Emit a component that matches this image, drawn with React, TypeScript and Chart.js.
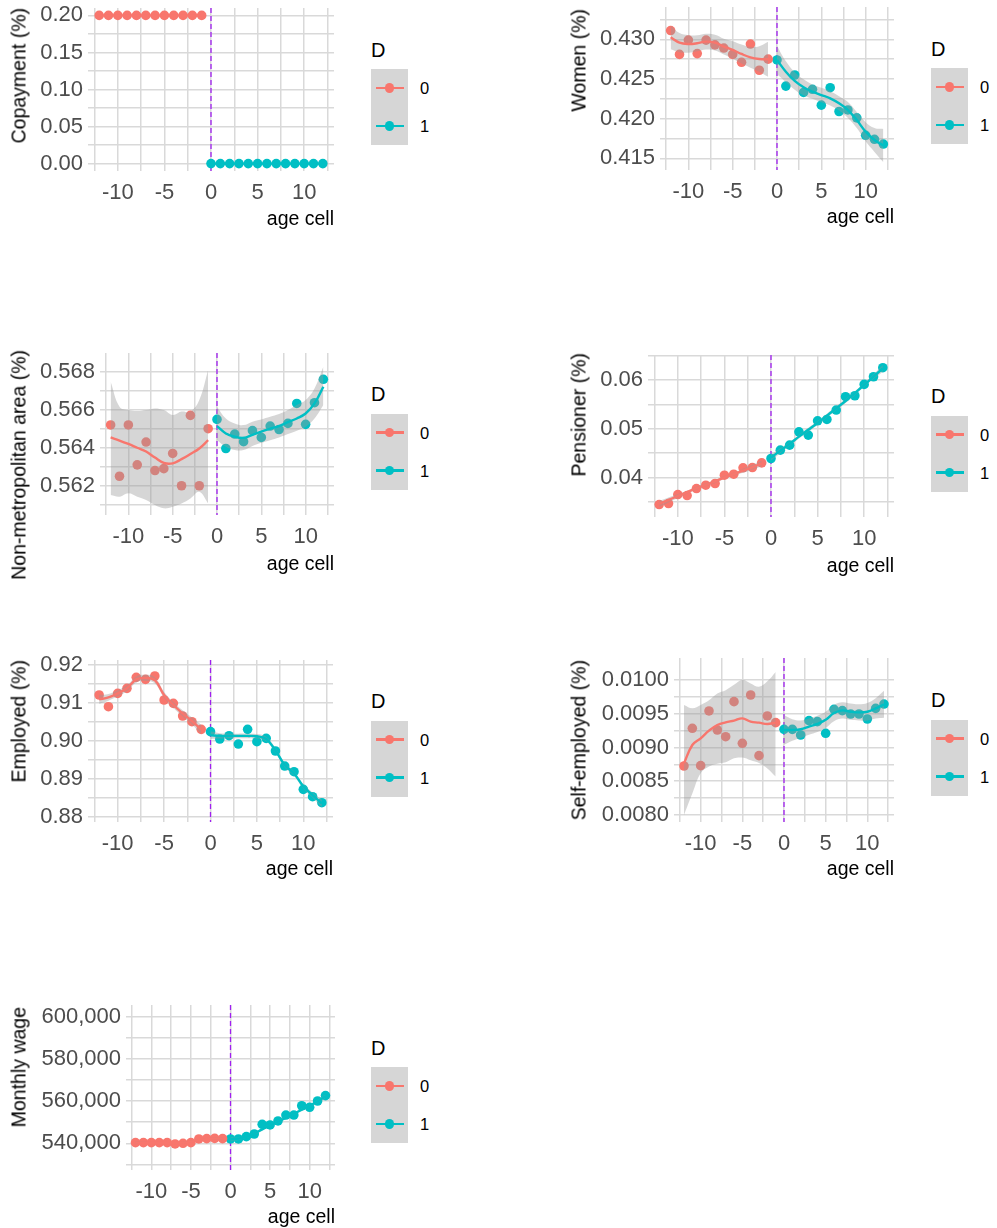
import React, { useEffect, useRef } from "react";
import { Chart, registerables } from "chart.js";
Chart.register(...registerables);
Chart.defaults.font.family = "'Liberation Sans', Arial, sans-serif";

// ---------- shared ----------
const RED = "#F8766D";
const TEAL = "#00BFC4";
const RIBBON = "rgba(153,153,153,0.4)";
const GRID = "#D9D9D9";
const TICK_COLOR = "#4D4D4D";
const CUTOFF = 0;

const ageBelow = [-12, -11, -10, -9, -8, -7, -6, -5, -4, -3, -2, -1];
const ageAbove = [0, 1, 2, 3, 4, 5, 6, 7, 8, 9, 10, 11, 12];
const xLimits = [-13.2, 13.2];
const xGridValues = [-12.5, -10, -7.5, -5, -2.5, 0, 2.5, 5, 7.5, 10, 12.5];
const xTickLabels = ["", "-10", "", "-5", "", "0", "", "5", "", "10", ""];
const legendLabels = ["0", "1"];

// ---------- Copayment ----------
const copayPts0 = [0.2, 0.2, 0.2, 0.2, 0.2, 0.2, 0.2, 0.2, 0.2, 0.2, 0.2, 0.2];
const copayPts1 = [0, 0, 0, 0, 0, 0, 0, 0, 0, 0, 0, 0, 0];
const copayFit0 = [0.2, 0.2, 0.2, 0.2, 0.2, 0.2, 0.2, 0.2, 0.2, 0.2, 0.2, 0.2];
const copayFit1 = [0, 0, 0, 0, 0, 0, 0, 0, 0, 0, 0, 0, 0];
const copayBand0 = [0, 0, 0, 0, 0, 0, 0, 0, 0, 0, 0, 0];
const copayBand1 = [0, 0, 0, 0, 0, 0, 0, 0, 0, 0, 0, 0, 0];
const copayYTicks = [0, 0.025, 0.05, 0.075, 0.1, 0.125, 0.15, 0.175, 0.2];
const copayYLabels = ["0.00", "", "0.05", "", "0.10", "", "0.15", "", "0.20"];
const copayYLimits = [-0.01, 0.21];

// ---------- Women ----------
const womenPts0 = [0.4311, 0.4281, 0.4299, 0.4282, 0.4299, 0.4293, 0.4289, 0.4281, 0.4271, 0.4294, 0.4261, 0.4275];
const womenPts1 = [0.4274, 0.4241, 0.4255, 0.4233, 0.4237, 0.4217, 0.4239, 0.4209, 0.4211, 0.4201, 0.4179, 0.4174, 0.4168];
const womenFit0 = [0.43025, 0.42958, 0.42941, 0.4295, 0.42971, 0.42958, 0.42908, 0.42866, 0.42815, 0.42773, 0.42752, 0.42748];
const womenFit1 = [0.42739, 0.42592, 0.42475, 0.42395, 0.4234, 0.42298, 0.42256, 0.42193, 0.42109, 0.41983, 0.41836, 0.41731, 0.4166];
const womenBand0 = [0.0015, 0.0012, 0.0011, 0.001, 0.001, 0.001, 0.001, 0.0011, 0.0012, 0.0013, 0.0016, 0.0022];
const womenBand1 = [0.0018, 0.0013, 0.0011, 0.001, 0.0009, 0.0009, 0.0009, 0.0009, 0.001, 0.001, 0.0012, 0.0015, 0.0021];
const womenYTicks = [0.415, 0.4175, 0.42, 0.4225, 0.425, 0.4275, 0.43, 0.4325];
const womenYLabels = ["0.415", "", "0.420", "", "0.425", "", "0.430", ""];
const womenYLimits = [0.41353, 0.43407];

// ---------- Non-metropolitan area ----------
const metroPts0 = [0.5652, 0.5625, 0.5652, 0.5631, 0.5643, 0.5628, 0.5629, 0.5637, 0.562, 0.5657, 0.562, 0.565];
const metroPts1 = [0.56549, 0.56396, 0.56472, 0.56432, 0.5649, 0.56454, 0.56514, 0.56496, 0.56528, 0.56633, 0.56523, 0.56637, 0.5676];
const metroFit0 = [0.56454, 0.56438, 0.5642, 0.564, 0.5638, 0.56348, 0.5632, 0.56318, 0.5634, 0.56367, 0.56396, 0.5644];
const metroFit1 = [0.56514, 0.56475, 0.56458, 0.56452, 0.56468, 0.56485, 0.565, 0.56514, 0.56535, 0.56554, 0.5658, 0.56633, 0.56721];
const metroUpper0 = [0.56747, 0.56616, 0.56598, 0.56593, 0.56598, 0.56607, 0.56598, 0.56572, 0.5659, 0.5659, 0.56651, 0.56809];
const metroLower0 = [0.56151, 0.56142, 0.5616, 0.56142, 0.56125, 0.56098, 0.56081, 0.5609, 0.56107, 0.56133, 0.56168, 0.56107];
const metroUpper1 = [0.56616, 0.56554, 0.56528, 0.56519, 0.56537, 0.56549, 0.56563, 0.56577, 0.56598, 0.56625, 0.56651, 0.56712, 0.56826];
const metroLower1 = [0.5644, 0.56405, 0.56388, 0.56388, 0.56409, 0.56426, 0.5644, 0.56454, 0.56472, 0.5649, 0.56511, 0.56554, 0.56625];
const metroYTicks = [0.561, 0.562, 0.563, 0.564, 0.565, 0.566, 0.567, 0.568];
const metroYLabels = ["", "0.562", "", "0.564", "", "0.566", "", "0.568"];
const metroYLimits = [0.56046, 0.568985];

// ---------- Pensioner ----------
const pensionPts0 = [0.03445, 0.03466, 0.03651, 0.0363, 0.03774, 0.03842, 0.03877, 0.04048, 0.04068, 0.04199, 0.04205, 0.04301];
const pensionPts1 = [0.0439, 0.04562, 0.04664, 0.04938, 0.0487, 0.05164, 0.05192, 0.05384, 0.05658, 0.05678, 0.05911, 0.06068, 0.06253];
const pensionFit0 = [0.0346, 0.0354, 0.0362, 0.037, 0.0378, 0.0385, 0.0392, 0.04, 0.0407, 0.0414, 0.0421, 0.0429];
const pensionFit1 = [0.0441, 0.0455, 0.0469, 0.0484, 0.0498, 0.0512, 0.0527, 0.0542, 0.0557, 0.0573, 0.059, 0.0607, 0.0624];
const pensionBand0 = [0.0006, 0.0005, 0.0004, 0.0003, 0.0003, 0.0003, 0.0003, 0.0003, 0.0003, 0.0004, 0.0005, 0.0006];
const pensionBand1 = [0.0006, 0.0005, 0.0004, 0.0004, 0.0004, 0.0004, 0.0004, 0.0004, 0.0004, 0.0004, 0.0004, 0.0005, 0.0007];
const pensionYTicks = [0.035, 0.04, 0.045, 0.05, 0.055, 0.06, 0.065];
const pensionYLabels = ["", "0.04", "", "0.05", "", "0.06", ""];
const pensionYLimits = [0.0319, 0.06514];

// ---------- Employed ----------
const employedPts0 = [0.91209, 0.909, 0.91253, 0.91385, 0.91675, 0.91622, 0.9171, 0.91077, 0.90989, 0.90655, 0.90505, 0.90303];
const employedPts1 = [0.90242, 0.90048, 0.90136, 0.89916, 0.90303, 0.89978, 0.90066, 0.89732, 0.89336, 0.89187, 0.88721, 0.88527, 0.88369];
const employedFit0 = [0.91094, 0.91147, 0.91253, 0.91385, 0.9162, 0.9166, 0.916, 0.91209, 0.90945, 0.90725, 0.90523, 0.90303];
const employedFit1 = [0.9015, 0.9013, 0.9013, 0.9013, 0.9013, 0.9012, 0.9005, 0.8975, 0.8936, 0.8914, 0.888, 0.8857, 0.8835];
const employedBand0 = [0.0012, 0.0009, 0.0008, 0.0008, 0.0008, 0.0008, 0.0008, 0.0008, 0.0008, 0.0008, 0.0009, 0.0012];
const employedBand1 = [0.001, 0.0007, 0.0006, 0.0006, 0.0006, 0.0006, 0.0006, 0.0006, 0.0006, 0.0006, 0.0006, 0.0007, 0.001];
const employedYTicks = [0.88, 0.885, 0.89, 0.895, 0.9, 0.905, 0.91, 0.915, 0.92];
const employedYLabels = ["0.88", "", "0.89", "", "0.90", "", "0.91", "", "0.92"];
const employedYLimits = [0.8786, 0.92132];

// ---------- Self-employed ----------
const selfPts0 = [0.008726, 0.009284, 0.008731, 0.009541, 0.009259, 0.00916, 0.009679, 0.009062, 0.009778, 0.008879, 0.009467, 0.009368];
const selfPts1 = [0.009269, 0.009269, 0.009185, 0.009398, 0.009383, 0.00921, 0.009565, 0.009546, 0.009496, 0.009496, 0.009422, 0.00958, 0.009644];
const selfFit0 = [0.008765, 0.009037, 0.009136, 0.00925, 0.009333, 0.009373, 0.009398, 0.009432, 0.009383, 0.009368, 0.009348, 0.009368];
const selfFit1 = [0.00926, 0.00926, 0.00927, 0.00931, 0.00935, 0.00941, 0.00951, 0.00955, 0.00953, 0.00952, 0.00953, 0.00958, 0.00964];
const selfUpper0 = [0.00963, 0.00958, 0.00963, 0.0097, 0.0098, 0.00985, 0.00993, 0.01, 0.00995, 0.0099, 0.00998, 0.01012];
const selfLower0 = [0.008, 0.00832, 0.00862, 0.00872, 0.00876, 0.00878, 0.00884, 0.00885, 0.00881, 0.00877, 0.00869, 0.00857];
const selfBand1 = [0.00022, 0.00016, 0.00013, 0.00012, 0.00012, 0.00012, 0.00012, 0.00012, 0.00012, 0.00012, 0.00013, 0.00015, 0.0002];
const selfYTicks = [0.008, 0.00825, 0.0085, 0.00875, 0.009, 0.00925, 0.0095, 0.00975, 0.01];
const selfYLabels = ["0.0080", "", "0.0085", "", "0.0090", "", "0.0095", "", "0.0100"];
const selfYLimits = [0.007896, 0.010326];

// ---------- Monthly wage ----------
const wagePts0 = [540300, 540300, 540300, 540300, 540300, 539700, 540000, 540300, 542050, 542200, 542350, 542200];
const wagePts1 = [542050, 542050, 543150, 544400, 549000, 548700, 550600, 553400, 553400, 557800, 557050, 560050, 562600];
const wageFit0 = [540300, 540250, 540200, 540150, 540100, 540100, 540300, 540800, 541500, 542000, 542200, 542200];
const wageFit1 = [541900, 542300, 543100, 544600, 546600, 548400, 550200, 552100, 554000, 555900, 557800, 559900, 562300];
const wageBand0 = [700, 500, 400, 400, 400, 400, 400, 400, 400, 400, 500, 700];
const wageBand1 = [900, 700, 600, 600, 600, 600, 600, 600, 600, 600, 600, 700, 1000];
const wageYTicks = [530000, 540000, 550000, 560000, 570000, 580000, 590000, 600000];
const wageYLabels = ["", "540,000", "", "560,000", "", "580,000", "", "600,000"];
const wageYLimits = [527346, 605545];

const add = (a: number[], b: number[]) => a.map((v, i) => v + b[i]);
const sub = (a: number[], b: number[]) => a.map((v, i) => v - b[i]);

type PanelCfg = {
  title: string;
  colX: number;
  box: { left: number; top: number; right: number; bottom: number };
  titleTop: number;
  ageCellY: number;
  pts0: number[]; pts1: number[];
  fit0: number[]; fit1: number[];
  lo0: number[]; hi0: number[]; lo1: number[]; hi1: number[];
  yTicks: number[]; yLabels: string[]; yLimits: number[];
};

const panels: PanelCfg[] = [
  {
    title: "Copayment (%)", colX: 0, box: { left: 88, top: 8, right: 334, bottom: 171 }, titleTop: 8, ageCellY: 220,
    pts0: copayPts0, pts1: copayPts1, fit0: copayFit0, fit1: copayFit1,
    lo0: sub(copayFit0, copayBand0), hi0: add(copayFit0, copayBand0), lo1: sub(copayFit1, copayBand1), hi1: add(copayFit1, copayBand1),
    yTicks: copayYTicks, yLabels: copayYLabels, yLimits: copayYLimits,
  },
  {
    title: "Women (%)", colX: 560, box: { left: 660, top: 7, right: 894, bottom: 170 }, titleTop: 9, ageCellY: 218,
    pts0: womenPts0, pts1: womenPts1, fit0: womenFit0, fit1: womenFit1,
    lo0: sub(womenFit0, womenBand0), hi0: add(womenFit0, womenBand0), lo1: sub(womenFit1, womenBand1), hi1: add(womenFit1, womenBand1),
    yTicks: womenYTicks, yLabels: womenYLabels, yLimits: womenYLimits,
  },
  {
    title: "Non-metropolitan area (%)", colX: 0, box: { left: 100, top: 353, right: 334, bottom: 515 }, titleTop: 350, ageCellY: 565,
    pts0: metroPts0, pts1: metroPts1, fit0: metroFit0, fit1: metroFit1,
    lo0: metroLower0, hi0: metroUpper0, lo1: metroLower1, hi1: metroUpper1,
    yTicks: metroYTicks, yLabels: metroYLabels, yLimits: metroYLimits,
  },
  {
    title: "Pensioner (%)", colX: 560, box: { left: 648, top: 355, right: 894, bottom: 517 }, titleTop: 353, ageCellY: 567,
    pts0: pensionPts0, pts1: pensionPts1, fit0: pensionFit0, fit1: pensionFit1,
    lo0: sub(pensionFit0, pensionBand0), hi0: add(pensionFit0, pensionBand0), lo1: sub(pensionFit1, pensionBand1), hi1: add(pensionFit1, pensionBand1),
    yTicks: pensionYTicks, yLabels: pensionYLabels, yLimits: pensionYLimits,
  },
  {
    title: "Employed (%)", colX: 0, box: { left: 88, top: 660, right: 333, bottom: 822 }, titleTop: 660, ageCellY: 870,
    pts0: employedPts0, pts1: employedPts1, fit0: employedFit0, fit1: employedFit1,
    lo0: sub(employedFit0, employedBand0), hi0: add(employedFit0, employedBand0), lo1: sub(employedFit1, employedBand1), hi1: add(employedFit1, employedBand1),
    yTicks: employedYTicks, yLabels: employedYLabels, yLimits: employedYLimits,
  },
  {
    title: "Self-employed (%)", colX: 560, box: { left: 674, top: 658, right: 894, bottom: 822 }, titleTop: 660, ageCellY: 870,
    pts0: selfPts0, pts1: selfPts1, fit0: selfFit0, fit1: selfFit1,
    lo0: selfLower0, hi0: selfUpper0, lo1: sub(selfFit1, selfBand1), hi1: add(selfFit1, selfBand1),
    yTicks: selfYTicks, yLabels: selfYLabels, yLimits: selfYLimits,
  },
  {
    title: "Monthly wage", colX: 0, box: { left: 126, top: 1005, right: 335, bottom: 1170 }, titleTop: 1007, ageCellY: 1218,
    pts0: wagePts0, pts1: wagePts1, fit0: wageFit0, fit1: wageFit1,
    lo0: sub(wageFit0, wageBand0), hi0: add(wageFit0, wageBand0), lo1: sub(wageFit1, wageBand1), hi1: add(wageFit1, wageBand1),
    yTicks: wageYTicks, yLabels: wageYLabels, yLimits: wageYLimits,
  },
];

const PAD_TOP = 20;
const PAD_RIGHT = 8;
const X_AXIS_H = 40;

const cutoffPlugin = {
  id: "cutoffLine",
  beforeDatasetsDraw(chart: any) {
    const { ctx, chartArea, scales } = chart;
    const x = scales.x.getPixelForValue(CUTOFF);
    ctx.save();
    ctx.strokeStyle = "#A020F0";
    ctx.lineWidth = 1.3;
    ctx.setLineDash([5, 3]);
    ctx.beginPath();
    ctx.moveTo(x, chartArea.top);
    ctx.lineTo(x, chartArea.bottom);
    ctx.stroke();
    ctx.restore();
  },
};

const zeroPad = (s: any) => {
  s.paddingLeft = 0;
  s.paddingRight = 0;
  s.paddingTop = 0;
  s.paddingBottom = 0;
};

const toXY = (xs: number[], ys: number[]) => xs.map((x, i) => ({ x, y: ys[i] }));

function Panel({ cfg }: { cfg: PanelCfg }) {
  const ref = useRef<HTMLCanvasElement>(null);
  const { box, colX } = cfg;
  const left = colX;
  const top = box.top - PAD_TOP;
  const width = box.right + PAD_RIGHT - colX;
  const height = box.bottom + X_AXIS_H - top;
  const yAxisW = box.left - colX;

  useEffect(() => {
    const lineCommon = { pointRadius: 0, tension: 0.4 };
    const chart = new Chart(ref.current as HTMLCanvasElement, {
      type: "line",
      data: {
        datasets: [
          { ...lineCommon, label: "fit0", data: toXY(ageBelow, cfg.fit0), borderColor: RED, borderWidth: 2.4, fill: false, order: 0 },
          { ...lineCommon, label: "fit1", data: toXY(ageAbove, cfg.fit1), borderColor: TEAL, borderWidth: 2.4, fill: false, order: 0 },
          { ...lineCommon, label: "hi0", data: toXY(ageBelow, cfg.hi0), borderColor: "transparent", borderWidth: 0, fill: false, order: 1 },
          { ...lineCommon, label: "lo0", data: toXY(ageBelow, cfg.lo0), borderColor: "transparent", borderWidth: 0, backgroundColor: RIBBON, fill: "-1", order: 1 },
          { ...lineCommon, label: "hi1", data: toXY(ageAbove, cfg.hi1), borderColor: "transparent", borderWidth: 0, fill: false, order: 1 },
          { ...lineCommon, label: "lo1", data: toXY(ageAbove, cfg.lo1), borderColor: "transparent", borderWidth: 0, backgroundColor: RIBBON, fill: "-1", order: 1 },
          { label: "pts0", data: toXY(ageBelow, cfg.pts0), showLine: false, pointRadius: 4.8, pointBackgroundColor: RED, pointBorderWidth: 0, borderColor: RED, order: 2 },
          { label: "pts1", data: toXY(ageAbove, cfg.pts1), showLine: false, pointRadius: 4.8, pointBackgroundColor: TEAL, pointBorderWidth: 0, borderColor: TEAL, order: 2 },
        ] as any,
      },
      options: {
        animation: false,
        responsive: false,
        maintainAspectRatio: false,
        events: [],
        layout: { padding: { top: PAD_TOP, right: PAD_RIGHT, left: 0, bottom: 0 } },
        plugins: { legend: { display: false }, tooltip: { enabled: false } },
        scales: {
          x: {
            type: "linear",
            min: xLimits[0],
            max: xLimits[1],
            afterBuildTicks: (s: any) => {
              s.ticks = xGridValues.map((v) => ({ value: v }));
            },
            afterFit: (s: any) => {
              s.height = X_AXIS_H;
              zeroPad(s);
            },
            ticks: {
              callback: (_v: any, i: number) => xTickLabels[i],
              autoSkip: false,
              maxRotation: 0,
              padding: 9,
              color: TICK_COLOR,
              font: { size: 22 },
            },
            grid: { color: GRID, lineWidth: 1.5, drawTicks: false },
            border: { display: false },
          },
          y: {
            type: "linear",
            min: cfg.yLimits[0],
            max: cfg.yLimits[1],
            afterBuildTicks: (s: any) => {
              s.ticks = cfg.yTicks.map((v) => ({ value: v }));
            },
            afterFit: (s: any) => {
              s.width = yAxisW;
              zeroPad(s);
            },
            ticks: {
              callback: (_v: any, i: number) => cfg.yLabels[i],
              autoSkip: false,
              padding: 5,
              color: TICK_COLOR,
              font: { size: 22 },
            },
            grid: { color: GRID, lineWidth: 1.5, drawTicks: false },
            border: { display: false },
          },
        },
      } as any,
      plugins: [cutoffPlugin],
    });
    return () => chart.destroy();
  }, []);

  const midY = (box.top + box.bottom) / 2;
  const legendX = colX + 371;
  const keyYs = [midY - 1.5, midY + 36.5];
  const keyColors = [RED, TEAL];
  const titleFs = 19.5;

  return (
    <>
      <canvas
        ref={ref}
        width={width}
        height={height}
        style={{ position: "absolute", left, top, width, height }}
      />
      <div
        style={{
          position: "absolute",
          left: colX + 20 - titleFs / 2,
          top: cfg.titleTop,
          writingMode: "vertical-rl",
          transform: "rotate(180deg)",
          whiteSpace: "nowrap",
          fontSize: titleFs,
          lineHeight: 1,
          color: "#000",
        }}
      >
        {cfg.title}
      </div>
      <div
        style={{
          position: "absolute",
          left: box.right - 200,
          width: 200,
          textAlign: "right",
          top: cfg.ageCellY - 11.5,
          fontSize: titleFs,
          lineHeight: 1,
          color: "#000",
          whiteSpace: "nowrap",
        }}
      >
        age cell
      </div>
      {/* legend */}
      <div style={{ position: "absolute", left: legendX, top: midY - 50, fontSize: 20, lineHeight: 1, color: "#000" }}>D</div>
      <div
        style={{
          position: "absolute",
          left: legendX,
          top: midY - 20.5,
          width: 37,
          height: 76,
          background: "#D6D6D6",
        }}
      />
      {keyYs.map((ky, i) => (
        <React.Fragment key={i}>
          <div style={{ position: "absolute", left: legendX + 5, top: ky - 1.2, width: 28, height: 2.4, background: keyColors[i] }} />
          <div
            style={{
              position: "absolute",
              left: legendX + 18.5 - 4.8,
              top: ky - 4.8,
              width: 9.6,
              height: 9.6,
              borderRadius: "50%",
              background: keyColors[i],
            }}
          />
          <div style={{ position: "absolute", left: legendX + 49, top: ky - 8, fontSize: 16.5, lineHeight: 1, color: "#000" }}>
            {legendLabels[i]}
          </div>
        </React.Fragment>
      ))}
    </>
  );
}

export default function App() {
  return (
    <div
      style={{
        position: "absolute",
        left: 0,
        top: 0,
        width: 997,
        height: 1228,
        background: "#fff",
        overflow: "hidden",
        fontFamily: "'Liberation Sans', Arial, sans-serif",
      }}
    >
      {panels.map((p, i) => (
        <Panel key={i} cfg={p} />
      ))}
    </div>
  );
}
